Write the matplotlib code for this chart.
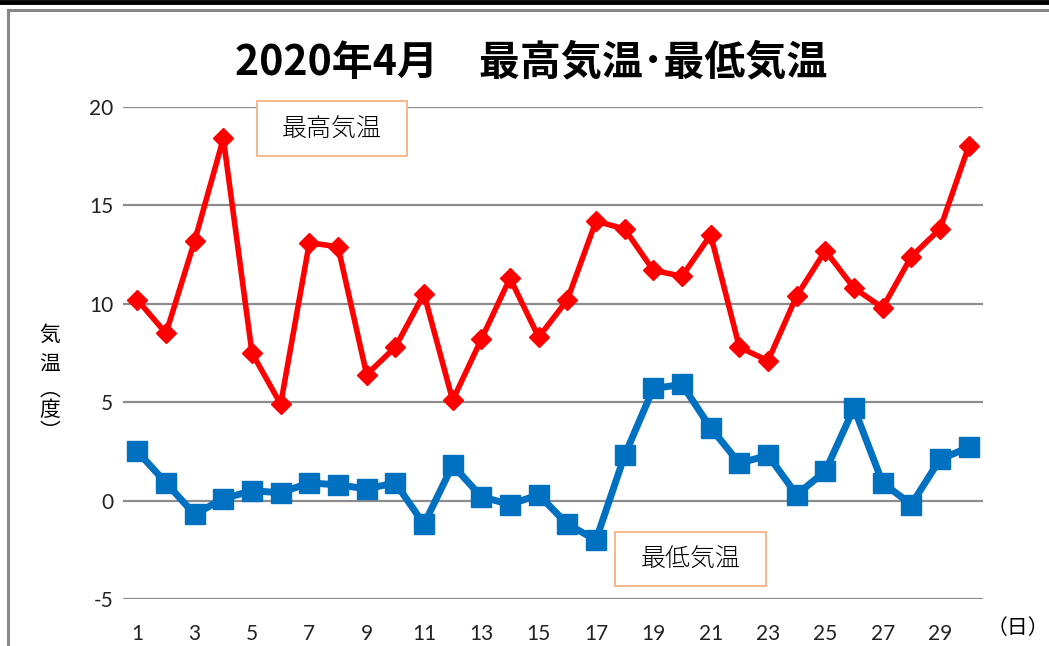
import matplotlib
matplotlib.use("Agg")
import matplotlib.pyplot as plt
from matplotlib.patches import Rectangle
from matplotlib.lines import Line2D

plt.rcParams['font.family'] = ['Noto Sans CJK JP', 'DejaVu Sans']
plt.rcParams['axes.unicode_minus'] = False

days = list(range(1, 31))
max_temp = [10.2, 8.5, 13.2, 18.4, 7.5, 4.9, 13.1, 12.9, 6.4, 7.8,
            10.5, 5.1, 8.2, 11.3, 8.3, 10.2, 14.2, 13.8, 11.7, 11.4,
            13.5, 7.8, 7.1, 10.4, 12.7, 10.8, 9.8, 12.4, 13.8, 18.0]
min_temp = [2.5, 0.9, -0.7, 0.1, 0.5, 0.4, 0.9, 0.8, 0.6, 0.9,
            -1.2, 1.8, 0.2, -0.2, 0.3, -1.2, -2.0, 2.3, 5.7, 5.9,
            3.7, 1.9, 2.3, 0.3, 1.5, 4.7, 0.9, -0.2, 2.1, 2.7]
xticks = list(range(1, 30, 2))
yticks = [-5, 0, 5, 10, 15, 20]
title = "2020年4月　最高気温･最低気温"
ylabel_chars = ["気", "温", "︵", "度", "︶"]

W, H = 1049, 646
fig = plt.figure(figsize=(W / 100, H / 100), dpi=100)

# outer frame lines
fig.add_artist(Line2D([0, 1], [1 - 1.5 / H, 1 - 1.5 / H], color='black', lw=3.5, transform=fig.transFigure))
fig.add_artist(Line2D([8 / W, 1], [1 - 10 / H, 1 - 10 / H], color='#888888', lw=2.2, transform=fig.transFigure))
fig.add_artist(Line2D([8 / W, 8 / W], [0, 1 - 10 / H], color='#888888', lw=2.2, transform=fig.transFigure))

ax = fig.add_axes([123 / W, 1 - 599 / H, (983 - 123) / W, (599 - 107) / H])
ax.set_xlim(0.5, 30.5)
ax.set_ylim(-5, 20)
for s in ax.spines.values():
    s.set_visible(False)
ax.set_yticks(yticks)
ax.set_xticks(xticks)
ax.grid(axis='y', color='#8c8c8c', lw=1.6, zorder=0)
ax.tick_params(axis='both', length=0, labelsize=15, colors='#222222')
ax.tick_params(axis='y', pad=7)
ax.tick_params(axis='x', pad=18)
for lab in ax.get_xticklabels() + ax.get_yticklabels():
    lab.set_family(['Lato', 'DejaVu Sans'])

ax.plot(days, max_temp, color='#ff0000', lw=4, marker='D', markersize=10, zorder=3, clip_on=False)
ax.plot(days, min_temp, color='#0070c0', lw=5, marker='s', markersize=14, zorder=3, clip_on=False)

fig.text(531 / W, 1 - 62 / H, title, ha='center', va='center', fontsize=29.5, fontweight='bold')
ylab_y = [335, 365, 390, 410, 432]
for ch, yy in zip(ylabel_chars, ylab_y):
    fig.text(50 / W, 1 - yy / H, ch, ha='center', va='center', fontsize=15)
fig.text(1018 / W, 1 - 628 / H, "（日）", ha='center', va='center', fontsize=15)

def label_box(x0, y0, x1, y1, text):
    fig.add_artist(Rectangle((x0 / W, 1 - y1 / H), (x1 - x0) / W, (y1 - y0) / H,
                             transform=fig.transFigure, facecolor='white',
                             edgecolor='#f4b183', lw=1.3, zorder=5))
    fig.text((x0 + x1) / 2 / W, 1 - (y0 + y1) / 2 / H, text, ha='center', va='center',
             fontsize=18, fontweight='light', zorder=6)

label_box(257, 101, 407, 156, "最高気温")
label_box(615, 532, 766, 586, "最低気温")

fig.savefig("out.png", dpi=100)
